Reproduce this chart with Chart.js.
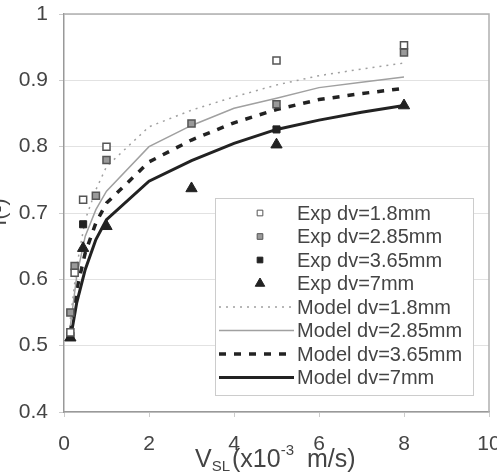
<!DOCTYPE html>
<html lang="en">

<head>
    <meta charset="UTF-8" />
    <title>f vs VSL</title>
    <script src="https://cdn.jsdelivr.net/npm/chart.js"></script>
    <style>
        html, body { margin: 0; padding: 0; background: #fff; }
        #wrap { width: 497px; height: 472px; }
    </style>
</head>

<body>
    <div id="wrap"><canvas id="chart"></canvas></div>
    <script>
        // experimental points
        var exp18X = [0.15, 0.25, 0.45, 1, 5, 8];
        var exp18Y = [0.52, 0.61, 0.72, 0.80, 0.93, 0.953];
        var exp285X = [0.15, 0.25, 0.75, 1, 3, 5, 8];
        var exp285Y = [0.55, 0.62, 0.726, 0.78, 0.835, 0.864, 0.942];
        var exp365X = [0.15, 0.45, 5];
        var exp365Y = [0.515, 0.683, 0.826];
        var exp7X = [0.15, 0.45, 1, 3, 5, 8];
        var exp7Y = [0.512, 0.647, 0.68, 0.737, 0.803, 0.862];

        // model curves
        var modelX = [0.15, 0.3, 0.5, 0.75, 1, 2, 3, 4, 5, 6, 7, 8];
        var model18 = [0.54, 0.62, 0.69, 0.735, 0.77, 0.83, 0.855, 0.875, 0.893, 0.907, 0.917, 0.926];
        var model285 = [0.53, 0.605, 0.665, 0.705, 0.733, 0.80, 0.832, 0.858, 0.873, 0.889, 0.897, 0.905];
        var model365 = [0.52, 0.585, 0.64, 0.685, 0.715, 0.777, 0.81, 0.836, 0.856, 0.871, 0.88, 0.888];
        var model7 = [0.51, 0.565, 0.615, 0.66, 0.69, 0.748, 0.779, 0.805, 0.826, 0.84, 0.852, 0.862];

        var yTicks = [0.4, 0.5, 0.6, 0.7, 0.8, 0.9, 1];
        var xTicks = [0, 2, 4, 6, 8, 10];

        function pts(xs, ys) {
            return xs.map((x, i) => ({ x: x, y: ys[i] }));
        }

        var FONT = '"Liberation Sans", Arial, sans-serif';
        var TXT = "#444";

        var datasets = [
            { label: "Exp dv=1.8mm", data: pts(exp18X, exp18Y), pointStyle: "rect", pointRadius: 5,
              backgroundColor: "#fff", borderColor: "#555", borderWidth: 1.5, showLine: false },
            { label: "Exp dv=2.85mm", data: pts(exp285X, exp285Y), pointStyle: "rect", pointRadius: 5,
              backgroundColor: "#9a9a9a", borderColor: "#555", borderWidth: 1.5, showLine: false },
            { label: "Exp dv=3.65mm", data: pts(exp365X, exp365Y), pointStyle: "rect", pointRadius: 5,
              backgroundColor: "#222", borderColor: "#222", borderWidth: 1, showLine: false },
            { label: "Exp dv=7mm", data: pts(exp7X, exp7Y), pointStyle: "triangle", pointRadius: 6.5,
              backgroundColor: "#222", borderColor: "#222", borderWidth: 1, showLine: false },
            { label: "Model dv=1.8mm", data: pts(modelX, model18), showLine: true, pointRadius: 0,
              borderColor: "#a0a0a0", borderWidth: 1.5, borderDash: [2, 5] },
            { label: "Model dv=2.85mm", data: pts(modelX, model285), showLine: true, pointRadius: 0,
              borderColor: "#a0a0a0", borderWidth: 1.5 },
            { label: "Model dv=3.65mm", data: pts(modelX, model365), showLine: true, pointRadius: 0,
              borderColor: "#222", borderWidth: 3.5, borderDash: [7, 8] },
            { label: "Model dv=7mm", data: pts(modelX, model7), showLine: true, pointRadius: 0,
              borderColor: "#222", borderWidth: 3 }
        ];

        // box border, inside legend and axis titles
        var decor = {
            id: "decor",
            beforeDatasetsDraw(chart) {
                var a = chart.chartArea, ctx = chart.ctx;
                ctx.save();
                ctx.strokeStyle = "#b0b0b0";
                ctx.lineWidth = 1.5;
                ctx.beginPath();
                ctx.moveTo(a.left, a.top);
                ctx.lineTo(a.right, a.top);
                ctx.lineTo(a.right, a.bottom);
                ctx.stroke();
                ctx.restore();
            },
            afterDraw(chart) {
                var ctx = chart.ctx;
                ctx.save();
                // legend box
                var lx = 215, ly = 198, lw = 258, lh = 197;
                ctx.fillStyle = "#fff";
                ctx.fillRect(lx, ly, lw, lh);
                ctx.strokeStyle = "#ccc";
                ctx.lineWidth = 1;
                ctx.strokeRect(lx + 0.5, ly + 0.5, lw, lh);
                chart.data.datasets.forEach((ds, i) => {
                    var y = 213 + i * 23.5;
                    if (ds.showLine) {
                        ctx.save();
                        ctx.strokeStyle = ds.borderColor;
                        ctx.lineWidth = ds.borderWidth;
                        ctx.setLineDash(ds.borderDash || []);
                        ctx.beginPath();
                        ctx.moveTo(219, y);
                        ctx.lineTo(294, y);
                        ctx.stroke();
                        ctx.restore();
                    } else {
                        ctx.fillStyle = ds.backgroundColor;
                        ctx.strokeStyle = ds.borderColor;
                        Chart.helpers.drawPoint(ctx, {
                            pointStyle: ds.pointStyle,
                            radius: ds.pointStyle === "triangle" ? 5.5 : 4,
                            borderWidth: ds.borderWidth,
                            rotation: 0
                        }, 260, y);
                    }
                    ctx.fillStyle = TXT;
                    ctx.font = "20px " + FONT;
                    ctx.textBaseline = "middle";
                    ctx.textAlign = "left";
                    ctx.fillText(ds.label, 297, y + 1);
                });

                // x axis title: V_SL (x10^-3 m/s)
                ctx.fillStyle = TXT;
                ctx.textBaseline = "alphabetic";
                var x = 195, base = 467;
                ctx.font = "25px " + FONT;
                ctx.fillText("V", x, base);
                x += ctx.measureText("V").width;
                ctx.font = "15px " + FONT;
                ctx.fillText("SL", x, base + 4);
                x += ctx.measureText("SL").width + 2;
                ctx.font = "25px " + FONT;
                ctx.fillText("(x10", x, base);
                x += ctx.measureText("(x10").width;
                ctx.font = "15px " + FONT;
                ctx.fillText("-3", x, base - 12);
                x += ctx.measureText("-3").width + 13;
                ctx.font = "25px " + FONT;
                ctx.fillText("m/s)", x, base);

                // y axis title, mostly clipped at the left edge
                ctx.save();
                ctx.translate(6, 212);
                ctx.rotate(-Math.PI / 2);
                ctx.textAlign = "center";
                ctx.font = "21px " + FONT;
                ctx.fillText("f(-)", 0, 0);
                ctx.restore();
                ctx.restore();
            }
        };

        var ctx = document.getElementById("chart").getContext("2d");
        var myChart = new Chart(ctx, {
            type: "scatter",
            data: { datasets: datasets },
            options: {
                responsive: true,
                maintainAspectRatio: false,
                animation: false,
                layout: { padding: { top: 14, right: 8, left: 0, bottom: 0 } },
                plugins: { legend: { display: false }, tooltip: { enabled: false } },
                scales: {
                    x: {
                        type: "linear",
                        min: 0,
                        max: 10,
                        afterBuildTicks: (s) => { s.ticks = xTicks.map((v) => ({ value: v })); },
                        afterFit: (s) => { s.height = 60; s.paddingLeft = 0; s.paddingRight = 0; },
                        grid: { display: true, drawOnChartArea: false, tickLength: 5, color: "#ccc" },
                        border: { color: "#999", width: 1.5 },
                        ticks: { color: TXT, font: { family: FONT, size: 21 }, padding: 15, maxRotation: 0 }
                    },
                    y: {
                        min: 0.4,
                        max: 1,
                        afterBuildTicks: (s) => { s.ticks = yTicks.map((v) => ({ value: v })); },
                        afterFit: (s) => { s.width = 64; s.paddingTop = 0; s.paddingBottom = 0; },
                        grid: { color: "#e2e2e2", lineWidth: 1, tickLength: 5, tickColor: "#ccc" },
                        border: { color: "#999", width: 1.5 },
                        ticks: { color: TXT, font: { family: FONT, size: 21 }, padding: 11,
                                 callback: (v) => (v === 1 ? "1" : v.toFixed(1)) }
                    }
                }
            },
            plugins: [decor]
        });
    </script>
</body>

</html>
